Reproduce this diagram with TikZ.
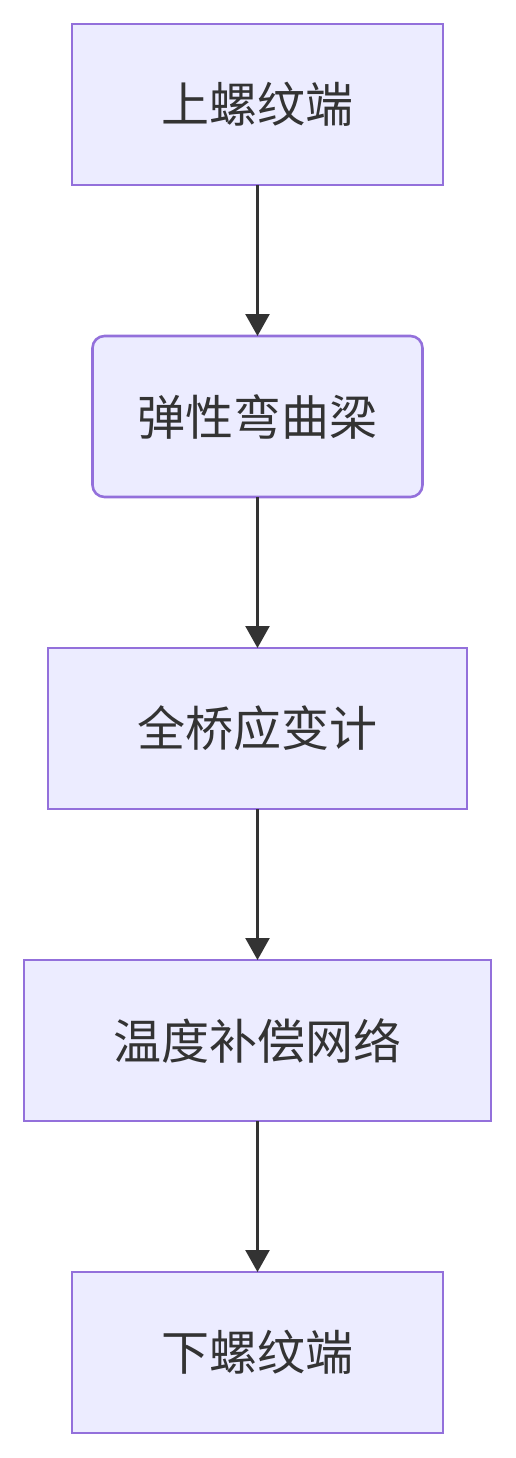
\documentclass[tikz,border=0pt]{standalone}
\usepackage{fontspec}
\setmainfont{Noto Sans CJK SC}
\usepackage{tikz}
\usetikzlibrary{
  arrows.meta,
  positioning
}
\definecolor{mmFill}{HTML}{ECECFF}
\definecolor{mmLine}{HTML}{9370DB}
\definecolor{mmText}{HTML}{333333}
\tikzset{
  stage/.style={
    draw=mmLine, fill=mmFill, line width=2.6pt, outer sep=0pt,
    minimum height=161pt, text=mmText, align=center,
    font=\fontsize{48}{57}\selectfont
  },
  beambox/.style={stage, rounded corners=12pt},
  flow/.style={-{Triangle[length=22pt, width=24pt]}, line width=2.5pt, mmText}
}

\begin{document}
\begin{tikzpicture}[node distance=151pt]
  \useasboundingbox (0pt,0pt) rectangle (516pt,-1458pt);
  \node[stage, minimum width=371pt] (top) at (257.5pt,-104.5pt) {上螺纹端};
  \node[beambox, minimum width=330pt, below=of top] (beam) {弹性弯曲梁};
  \node[stage, minimum width=419pt, below=of beam] (bridge) {全桥应变计};
  \node[stage, minimum width=467pt, below=of bridge] (comp) {温度补偿网络};
  \node[stage, minimum width=371pt, below=of comp] (bottom) {下螺纹端};
  \draw[flow] (top) -- (beam);
  \draw[flow] (beam) -- (bridge);
  \draw[flow] (bridge) -- (comp);
  \draw[flow] (comp) -- (bottom);
\end{tikzpicture}
\end{document}
